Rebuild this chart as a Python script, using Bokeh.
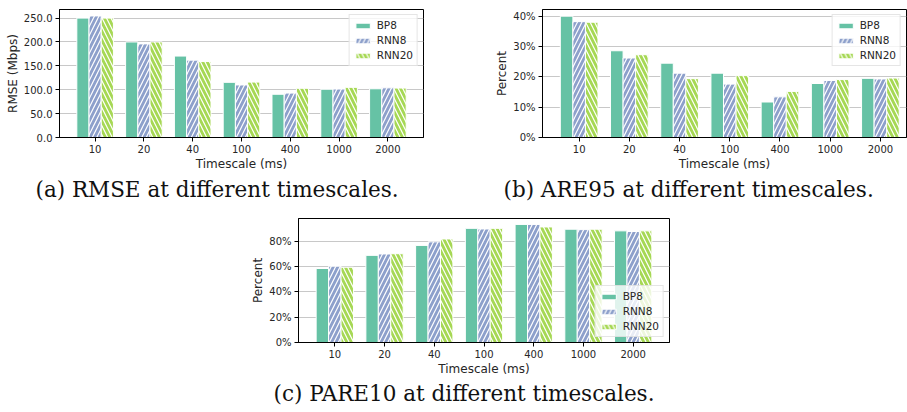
from bokeh.plotting import figure
from bokeh.models import (Range1d, FixedTicker, PrintfTickFormatter, NumeralTickFormatter,
                          Legend, LegendItem, Title, Spacer, ColumnDataSource)
from bokeh.layouts import column, row
from bokeh.transform import dodge
from bokeh.embed import file_html
from bokeh.resources import INLINE

categories = ["10", "20", "40", "100", "400", "1000", "2000"]
series_names = ["BP8", "RNN8", "RNN20"]
series_colors = ["#66c2a5", "#8da0cb", "#a6d854"]
series_hatch = [None, "/", "\\"]

rmse_bp8 = [250.0, 200.0, 170.5, 115.5, 90.5, 101.0, 102.0]
rmse_rnn8 = [254.5, 196.0, 162.0, 110.0, 93.0, 101.5, 104.0]
rmse_rnn20 = [250.0, 200.0, 159.0, 116.0, 103.0, 105.0, 103.5]

are95_bp8 = [40.0, 28.6, 24.5, 21.2, 11.7, 17.8, 19.5]
are95_rnn8 = [38.2, 26.2, 21.2, 17.6, 13.4, 18.8, 19.3]
are95_rnn20 = [38.0, 27.3, 19.4, 20.4, 15.2, 19.1, 19.6]

pare10_bp8 = [58.6, 69.0, 76.9, 90.4, 93.5, 89.7, 88.4]
pare10_rnn8 = [60.4, 70.1, 79.7, 89.9, 93.5, 89.4, 87.9]
pare10_rnn20 = [59.6, 70.3, 82.0, 90.4, 91.5, 89.7, 88.4]

rmse_ticks = [0, 50, 100, 150, 200, 250]
are95_ticks = [0, 10, 20, 30, 40]
pare10_ticks = [0, 20, 40, 60, 80]

FONT = "DejaVu Sans"
CAP_FONT = "DejaVu Serif"


def make_fig(width, height, x_end, ymax, yticks, ylabel, fmt, vals, legend_loc,
             caption, cap_offset, cap_standoff, bl, br, bt, bb):
    p = figure(width=width, height=height, x_range=Range1d(-0.73, x_end),
               y_range=Range1d(0, ymax), output_backend="svg", toolbar_location=None,
               min_border_left=bl, min_border_right=br, min_border_top=bt,
               min_border_bottom=bb)
    src = ColumnDataSource(dict(x=list(range(len(categories))), a=vals[0], b=vals[1], c=vals[2]))
    renderers = []
    for j, key in enumerate(["a", "b", "c"]):
        r = p.vbar(x=dodge("x", (j - 1) * 0.25, range=p.x_range), top=key, width=0.25,
                   source=src, fill_color=series_colors[j], line_color="white",
                   line_width=1, hatch_pattern=series_hatch[j], hatch_color="white",
                   hatch_scale=9, hatch_weight=1.2)
        renderers.append(r)
    legend = Legend(items=[LegendItem(label=n, renderers=[r]) for n, r in zip(series_names, renderers)],
                    location=legend_loc)
    legend.label_text_font = FONT
    legend.label_text_font_size = "10.5px"
    legend.label_text_color = "#262626"
    legend.glyph_width = 18
    legend.glyph_height = 7
    legend.label_height = 10
    legend.spacing = 3
    legend.padding = 4
    legend.margin = 5
    legend.border_line_color = "#cccccc"
    legend.background_fill_alpha = 0.8
    p.add_layout(legend)

    p.xaxis.ticker = FixedTicker(ticks=list(range(len(categories))))
    p.xaxis.major_label_overrides = {i: c for i, c in enumerate(categories)}
    p.xaxis.axis_label = "Timescale (ms)"
    p.yaxis.ticker = FixedTicker(ticks=yticks)
    p.yaxis.formatter = fmt
    p.yaxis.axis_label = ylabel
    for ax in p.axis:
        ax.major_tick_out = 4
        ax.major_tick_in = 0
        ax.minor_tick_line_color = None
        ax.axis_line_color = "black"
        ax.major_tick_line_color = "black"
        ax.major_label_text_font = FONT
        ax.major_label_text_font_size = "10px"
        ax.major_label_text_color = "#262626"
        ax.axis_label_text_font = FONT
        ax.axis_label_text_font_size = "12px"
        ax.axis_label_text_font_style = "normal"
        ax.axis_label_text_color = "#262626"
        ax.major_label_standoff = 3
        ax.axis_label_standoff = 1
    p.xgrid.grid_line_color = None
    p.ygrid.grid_line_color = "#c8c8c8"
    p.ygrid.grid_line_width = 1
    p.outline_line_color = "black"
    p.outline_line_width = 1
    p.background_fill_color = "white"
    p.border_fill_color = "white"

    t = Title(text=caption, align="left", offset=cap_offset, text_font=CAP_FONT,
              text_font_size="21.5px", text_font_style="normal", text_color="#111111",
              standoff=cap_standoff)
    p.add_layout(t, "below")
    return p


fa = make_fig(450, 205, 6.73, 268, rmse_ticks, "RMSE (Mbps)", NumeralTickFormatter(format="0.0"),
              [rmse_bp8, rmse_rnn8, rmse_rnn20], "top_right",
              "(a) RMSE at different timescales.", -24, 3, 59, 27, 8, 68)
fb = make_fig(457, 205, 6.52, 42.2, are95_ticks, "Percent", PrintfTickFormatter(format="%d%%"),
              [are95_bp8, are95_rnn8, are95_rnn20], "top_right",
              "(b) ARE95 at different timescales.", -39, 3, 92, 1, 9, 68)
fc = make_fig(433, 200, 6.73, 98.2, pare10_ticks, "Percent", PrintfTickFormatter(format="%d%%"),
              [pare10_bp8, pare10_rnn8, pare10_rnn20], "bottom_right",
              "(c) PARE10 at different timescales.", -25, 0, 52, 10, 13, 58)

layout = column(row(fa, fb), row(Spacer(width=246), fc))

open("out.html", "w").write(file_html(layout, INLINE))
